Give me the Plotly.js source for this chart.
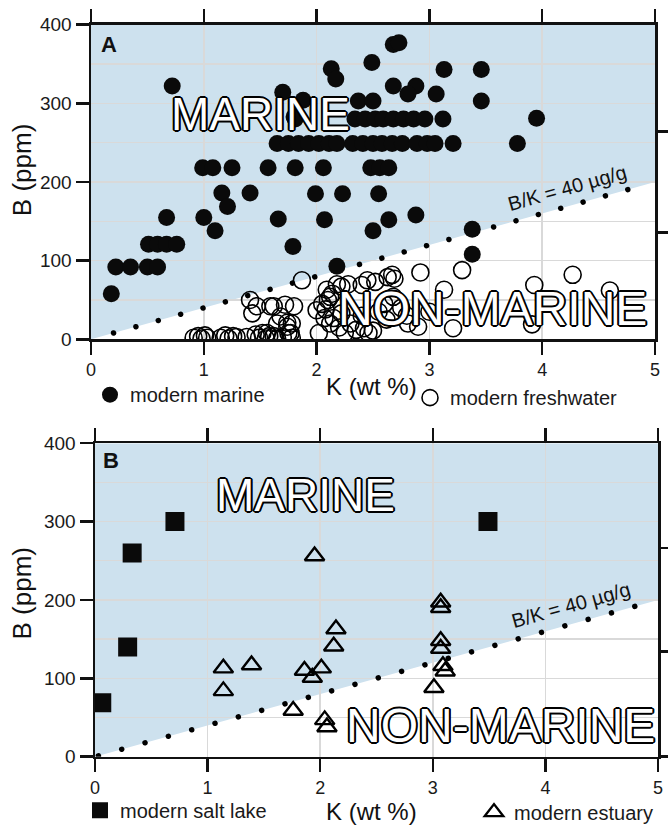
<!DOCTYPE html>
<html><head><meta charset="utf-8">
<script src="https://cdn.plot.ly/plotly-3.0.1.min.js"></script>
<style>
html,body{margin:0;padding:0;background:#fff;}
#chart{width:668px;height:832px;}
.scatterlayer .js-line{stroke-linecap:round;}
</style></head><body><div id="chart"></div>
<script>
// ---------- Panel A : modern marine (filled circles) ----------
const marineK = [0.18,0.22,0.35,0.50,0.59,0.51,0.59,0.67,0.76,0.67,1.00,1.10,1.16,1.21,1.41,0.72,
  0.99,1.08,1.25,1.57,1.81,2.06,2.48,2.56,2.64,
  1.66,1.79,2.07,2.50,2.64,2.88,2.18,3.38,3.38,1.99,2.23,2.55,
  1.65,1.75,1.84,1.93,2.02,2.11,2.18,2.32,2.41,2.50,2.58,2.67,2.76,2.89,2.98,3.05,3.21,3.78,
  1.81,2.34,2.43,2.52,2.59,2.68,2.77,2.86,2.96,3.12,3.95,
  1.70,1.88,1.80,2.37,2.50,2.68,2.88,2.81,3.06,3.46,3.13,3.46,2.13,2.17,2.49,2.68,2.73];
const marineB = [58,92,92,92,92,121,121,121,121,155,155,138,186,169,186,322,
  218,218,218,218,218,218,218,218,218,
  153,118,152,138,152,158,93,140,108,185,185,185,
  249,249,249,249,249,249,249,249,249,249,249,249,249,249,249,249,249,249,
  280,280,280,280,280,280,280,280,280,280,281,
  314,304,283,303,303,322,322,312,312,303,343,343,344,331,352,375,377];

// ---------- Panel A : modern freshwater (open circles) ----------
const freshK = [0.91,0.95,0.98,1.01,1.03,1.15,1.19,1.22,1.26,1.29,1.38,
  1.46,1.49,1.52,1.55,1.58,1.62,1.65,1.56,1.70,1.75,1.78,
  1.41,1.47,1.43,1.59,1.62,1.72,1.80,1.68,1.74,1.78,1.65,1.74,1.77,1.87,
  2.00,2.05,2.08,2.10,2.14,2.09,2.12,2.07,2.15,2.22,2.02,2.25,2.18,2.28,2.22,2.12,2.30,2.35,
  2.40,2.45,2.52,2.63,2.67,2.69,2.42,2.46,2.50,2.68,2.81,2.90,2.55,2.60,2.75,2.62,2.40,2.20,
  2.92,3.29,4.27,3.93,4.60,3.13,3.91,3.21,2.80,3.00];
const freshB = [2,4,1,5,2,2,5,1,4,3,3,
  6,2,8,1,4,4,1,8,3,8,2,
  50,42,33,42,42,44,42,29,21,20,20,16,8,75,
  37,45,38,50,58,63,20,27,27,33,8,8,70,70,67,54,20,12,
  69,75,73,79,82,77,14,8,11,54,20,16,35,45,40,25,30,15,
  85,88,82,69,62,63,19,14,30,35];

// ---------- Panel B : modern salt lake (squares) ----------
const saltK = [0.06,0.29,0.33,0.71,3.49];
const saltB = [69,140,260,300,300];

// ---------- Panel B : modern estuary (open triangles) ----------
const estuaryK = [1.14,1.14,1.39,1.86,1.93,2.01,1.76,2.04,2.06,2.14,2.12,1.95,3.07,3.07,3.07,3.07,3.09,3.11,3.01];
const estuaryB = [113,84,117,110,101,113,59,47,38,163,141,256,197,190,148,138,116,109,88];

// ---------- axes / reference ----------
const xTicks = [0,1,2,3,4,5];
const yTicks = [0,100,200,300,400];
const yMinorGrid = [50,150,250,350];
const kRange = [0,5];
const bRange = [0,400];
const bkRatio = 40;               // B/K = 40 ug/g boundary
const dotLineA = [0.2, 4.8];
const dotLineB = [0.03, 4.8];
const rightTicksA = [136, 264];
const rightTicksB = [0, 134, 266];

const FONT = 'Liberation Sans, Arial, Helvetica, sans-serif';
const INK = '#111';
const GRID = '#d9d9d9';
const BLUE = '#cde1ee';
const outline = '2px 0 0 #000, -2px 0 0 #000, 0 2px 0 #000, 0 -2px 0 #000, 1.4px 1.4px 0 #000, -1.4px -1.4px 0 #000, 1.4px -1.4px 0 #000, -1.4px 1.4px 0 #000';

const traces = [
  {x: dotLineA, y: dotLineA.map(k => k*bkRatio), xaxis:'x', yaxis:'y', mode:'lines',
   line:{color:'#000', width:5.5, dash:'0.01px,23.2px'}, showlegend:false, hoverinfo:'skip'},
  {x: freshK, y: freshB, xaxis:'x', yaxis:'y', mode:'markers', name:'modern freshwater', legend:'legend2',
   marker:{symbol:'circle-open', size:17, color:'#000', line:{width:1.6, color:'#000'}}},
  {x: marineK, y: marineB, xaxis:'x', yaxis:'y', mode:'markers', name:'modern marine', legend:'legend',
   marker:{symbol:'circle', size:17, color:'#0a0a0a'}},
  {x: dotLineB, y: dotLineB.map(k => k*bkRatio), xaxis:'x2', yaxis:'y2', mode:'lines',
   line:{color:'#000', width:5.5, dash:'0.01px,24.2px'}, showlegend:false, hoverinfo:'skip'},
  {x: saltK, y: saltB, xaxis:'x2', yaxis:'y2', mode:'markers', name:'modern salt lake', legend:'legend3',
   marker:{symbol:'square', size:19, color:'#0a0a0a'}},
  {x: estuaryK, y: estuaryB, xaxis:'x2', yaxis:'y2', mode:'markers', name:'modern estuary', legend:'legend4',
   marker:{symbol:'triangle-up-open', size:17, color:'#000', line:{width:2.4, color:'#000'}}},
  {x: [], y: [], xaxis:'x', yaxis:'y3', showlegend:false},
  {x: [], y: [], xaxis:'x2', yaxis:'y4', showlegend:false}
];

function xAxis(domain, anchor){
  return {domain, anchor, range:kRange, tickvals:xTicks, ticks:'outside', ticklen:13, tickwidth:2.5,
    tickcolor:INK, showline:true, linewidth:2.5, linecolor:INK, mirror:'ticks', showgrid:true,
    gridcolor:GRID, gridwidth:1.5, zeroline:false, automargin:false,
    tickfont:{family:FONT, size:18, color:'#1a1a1a'}};
}
function yAxis(domain, anchor){
  return {domain, anchor, range:bRange, tickvals:yTicks, ticks:'outside', ticklen:13, tickwidth:2.5,
    tickcolor:INK, showline:true, linewidth:2.5, linecolor:INK, mirror:true, showgrid:true,
    gridcolor:GRID, gridwidth:1.5, zeroline:false, automargin:false,
    minor:{tickvals:yMinorGrid, showgrid:true, gridcolor:GRID, gridwidth:1.5, ticks:''},
    tickfont:{family:FONT, size:19, color:'#1a1a1a'}};
}
function rightAxis(over, anchor, vals){
  return {overlaying:over, anchor, side:'right', range:bRange, tickvals:vals, ticks:'outside',
    ticklen:13, tickwidth:2.5, tickcolor:INK, showticklabels:false, showgrid:false, showline:false,
    zeroline:false, automargin:false};
}
function fillPath(){
  return `M ${kRange[0]},${bRange[0]} L ${kRange[1]},${kRange[1]*bkRatio} L ${kRange[1]},${bRange[1]} L ${kRange[0]},${bRange[1]} Z`;
}
function txt(text, x, y, xref, yref, size, extra){
  return Object.assign({text, x, y, xref, yref, showarrow:false, xanchor:'center', yanchor:'middle',
    font:{family:FONT, size, color:INK}}, extra||{});
}
function bigWord(text, x, y, xref, yref, size){
  return {text, x, y, xref, yref, showarrow:false, xanchor:'center', yanchor:'middle',
    font:{family:FONT, size, color:'#fff', shadow:outline}};
}
function legendBox(x, y){
  return {x, y, xanchor:'left', yanchor:'middle', orientation:'h', bgcolor:'rgba(0,0,0,0)',
    borderwidth:0, font:{family:FONT, size:20, color:'#1a1a1a'}, itemsizing:'trace'};
}

const layout = {
  width:668, height:832, margin:{l:0,r:0,t:0,b:0}, paper_bgcolor:'#fff', plot_bgcolor:'#fff',
  showlegend:true,
  xaxis: xAxis([91/668, 655/668], 'y'),
  yaxis: yAxis([1-343/832, 1-25/832], 'x'),
  xaxis2: xAxis([95/668, 658/668], 'y2'),
  yaxis2: yAxis([1-765/832, 1-448/832], 'x2'),
  yaxis3: rightAxis('y', 'x', rightTicksA),
  yaxis4: rightAxis('y2', 'x2', rightTicksB),
  shapes: [
    {type:'path', path:fillPath(), xref:'x', yref:'y', fillcolor:BLUE, line:{width:0}, layer:'below'},
    {type:'path', path:fillPath(), xref:'x2', yref:'y2', fillcolor:BLUE, line:{width:0}, layer:'below'}
  ],
  legend: legendBox(90/668, 1-399/832),
  legend2: legendBox(410/668, 1-402/832),
  legend3: legendBox(80/668, 1-819/832),
  legend4: legendBox(474/668, 1-821/832),
  annotations: [
    txt('<b>A</b>', 0.032, 0.937, 'x domain', 'y domain', 22),
    txt('<b>B</b>', 0.028, 0.946, 'x2 domain', 'y2 domain', 22),
    bigWord('MARINE', 1.50, 287, 'x', 'y', 46),
    bigWord('NON-MARINE', 3.56, 39, 'x', 'y', 48),
    bigWord('MARINE', 1.87, 334, 'x2', 'y2', 46),
    bigWord('NON-MARINE', 3.60, 40, 'x2', 'y2', 48),
    txt('B/K = 40 µg/g', 4.22, 193, 'x', 'y', 20, {textangle:-15.7}),
    txt('B/K = 40 µg/g', 4.23, 193, 'x2', 'y2', 20, {textangle:-15.7}),
    txt('B (ppm)', 22/668, 1-172/832, 'paper', 'paper', 26, {textangle:-90}),
    txt('B (ppm)', 22/668, 1-600/832, 'paper', 'paper', 26, {textangle:-90}),
    txt('K (wt %)', 372/668, 1-391/832, 'paper', 'paper', 24),
    txt('K (wt %)', 372/668, 1-820/832, 'paper', 'paper', 24)
  ]
};

Plotly.newPlot('chart', traces, layout, {staticPlot:true, displayModeBar:false});
</script></body></html>
